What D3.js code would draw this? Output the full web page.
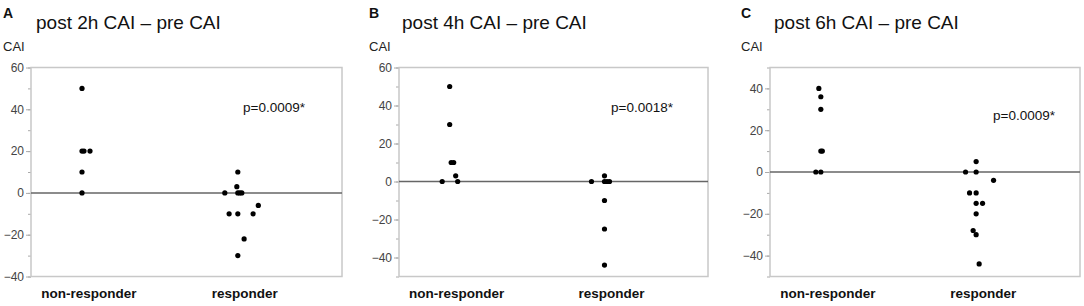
<!DOCTYPE html>
<html>
<head>
<meta charset="utf-8">
<script src="https://cdn.jsdelivr.net/npm/d3@7"></script>
<style>
  body { margin: 0; background: #fff; }
  svg { display: block; font-family: "Liberation Sans", Arial, sans-serif; }
</style>
</head>
<body>
<div id="chart"></div>
<script>
// data
const categories = ['non-responder', 'responder'];
const panelLetters = ['A', 'B', 'C'];
const titles = ['post 2h CAI \u2013 pre CAI', 'post 4h CAI \u2013 pre CAI', 'post 6h CAI \u2013 pre CAI'];
const pLabels = ['p=0.0009*', 'p=0.0018*', 'p=0.0009*'];

const ticksA = [-40, -20, 0, 20, 40, 60];
const ticksB = [-40, -20, 0, 20, 40, 60];
const ticksC = [-40, -20, 0, 20, 40];

const nonResponderA = [50, 20, 20, 20, 10, 0];
const responderA = [10, 3, 0, 0, 0, 0, -6, -10, -10, -10, -22, -30];

const nonResponderB = [50, 30, 10, 10, 3, 0, 0];
const responderB = [3, 0, 0, 0, 0, -10, -25, -44];

const nonResponderC = [40, 36, 30, 10, 10, 0, 0];
const responderC = [5, 0, 0, -4, -10, -10, -15, -15, -20, -28, -30, -44];

// layout: horizontal jitter of each dot (px), as placed in the figure
const jitterNonA = [0, 0, 2, 8, 0, 0];
const jitterRespA = [0, -1, -13, 0, 2, 4, 20.5, -8.7, 0, 15.3, 6.3, 0];
const jitterNonB = [0, 0, 1.5, 4, 6, -7.5, 8];
const jitterRespB = [0, -13, 0, 2.5, 5, 0, 0, 0];
const jitterNonC = [-2, 0, 0, 0, 1.5, -5, 0];
const jitterRespC = [0, -10.6, 0, 17.4, -6.6, 0, 0, 6.4, 0, -3, 0, 3];

const panels = [
  { left: 31, right: 342, domain: [-40, 60], ticks: ticksA, pX: 243, pY: 112,
    series: [nonResponderA, responderA], jitter: [jitterNonA, jitterRespA], ox: 0 },
  { left: 399, right: 708, domain: [-50, 60], ticks: ticksB, pX: 611, pY: 112,
    series: [nonResponderB, responderB], jitter: [jitterNonB, jitterRespB], ox: 366 },
  { left: 770, right: 1080, domain: [-50, 50], ticks: ticksC, pX: 993, pY: 120,
    series: [nonResponderC, responderC], jitter: [jitterNonC, jitterRespC], ox: 738 },
];

const width = 1084;
const height = 306;
const plotTop = 67.5;
const plotBottom = 276.5;

const svg = d3.select('#chart')
  .append('svg')
  .attr('width', width)
  .attr('height', height);

svg.append('rect')
  .attr('width', width)
  .attr('height', height)
  .attr('fill', '#fff');

panels.forEach((p, i) => {
  const g = svg.append('g');
  const w = p.right - p.left;

  const y = d3.scaleLinear().domain(p.domain).range([plotBottom, plotTop]);
  const x = d3.scalePoint()
    .domain(categories)
    .range([p.left + 0.164 * w, p.left + 0.665 * w]);

  // panel letter, title, y label
  g.append('text')
    .attr('x', p.ox + 3)
    .attr('y', 18)
    .attr('font-size', 14)
    .attr('font-weight', 'bold')
    .attr('fill', '#111')
    .text(panelLetters[i]);

  g.append('text')
    .attr('x', p.ox + 36)
    .attr('y', 29)
    .attr('font-size', 19)
    .attr('fill', '#111')
    .text(titles[i]);

  g.append('text')
    .attr('x', p.ox + 3)
    .attr('y', 51)
    .attr('font-size', 13)
    .attr('fill', '#222')
    .text('CAI');

  // minor ticks every 10
  const minor = d3.range(p.domain[0], p.domain[1] + 1, 10);
  g.append('g')
    .attr('transform', `translate(${p.left},0)`)
    .call(d3.axisLeft(y).tickValues(minor).tickSize(3).tickFormat(''))
    .call(a => a.select('.domain').remove())
    .call(a => a.selectAll('line').attr('stroke', '#aaa'));

  // major ticks + labels
  g.append('g')
    .attr('transform', `translate(${p.left},0)`)
    .call(d3.axisLeft(y).tickValues(p.ticks).tickSize(5).tickPadding(2))
    .call(a => a.select('.domain').remove())
    .call(a => a.selectAll('line').attr('stroke', '#aaa'))
    .call(a => a.selectAll('text')
      .attr('font-size', 12)
      .attr('fill', '#444')
      .attr('font-family', '"Liberation Sans", Arial, sans-serif'));

  // frame
  g.append('rect')
    .attr('x', p.left)
    .attr('y', plotTop)
    .attr('width', w)
    .attr('height', plotBottom - plotTop)
    .attr('fill', 'none')
    .attr('stroke', '#c8c8c8')
    .attr('stroke-width', 1.5);

  // zero line
  g.append('line')
    .attr('x1', p.left)
    .attr('x2', p.right)
    .attr('y1', y(0))
    .attr('y2', y(0))
    .attr('stroke', '#666')
    .attr('stroke-width', 1.5);

  // dots
  categories.forEach((cat, k) => {
    g.append('g')
      .selectAll('circle')
      .data(p.series[k])
      .join('circle')
      .attr('cx', (d, j) => x(cat) + p.jitter[k][j])
      .attr('cy', d => y(d))
      .attr('r', 2.6)
      .attr('fill', '#000');
  });

  // category labels
  g.append('g')
    .selectAll('text')
    .data(categories)
    .join('text')
    .attr('x', d => x(d) + 7)
    .attr('y', 298)
    .attr('text-anchor', 'middle')
    .attr('font-size', 13.5)
    .attr('font-weight', 'bold')
    .attr('fill', '#111')
    .text(d => d);

  // p value
  g.append('text')
    .attr('x', p.pX)
    .attr('y', p.pY)
    .attr('font-size', 13.5)
    .attr('fill', '#111')
    .text(pLabels[i]);
});
</script>
</body>
</html>
